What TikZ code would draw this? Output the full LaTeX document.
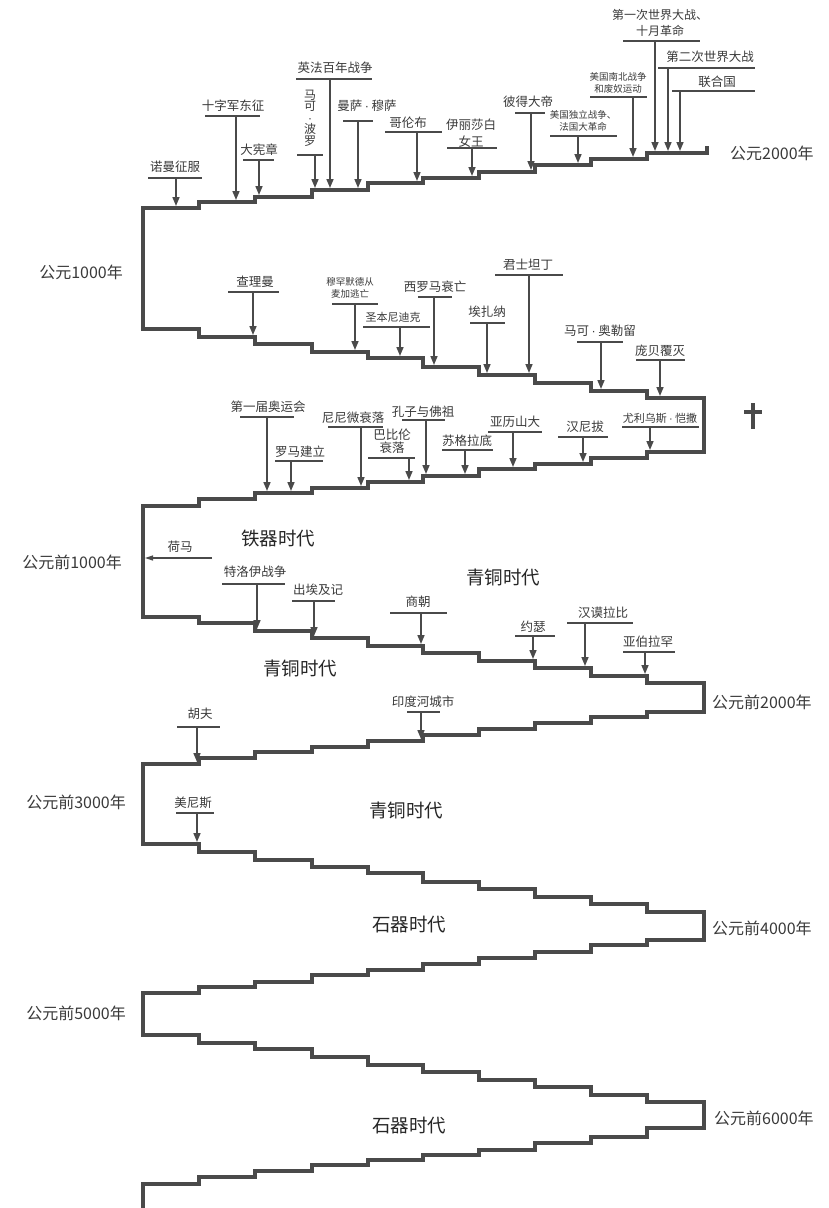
\documentclass[tikz,border=0pt]{standalone}
\usepackage{fontspec}
\setmainfont{Noto Sans CJK SC}
\newfontfamily\latinf{Liberation Sans}
\newcommand\mdot{\hspace{0.2em}{\latinf\textperiodcentered}\hspace{0.2em}}
\usetikzlibrary{arrows.meta}
\definecolor{ink}{HTML}{4A4A4A}
\definecolor{txt}{HTML}{3A3A3A}
\tikzset{
  stair/.style={line width=3.6pt, draw=ink, line join=miter},
  evbar/.style={line width=1.6pt, draw=ink},
  evarrow/.style={line width=1.6pt, draw=ink, -{Triangle[length=9pt,width=7pt]}},
  evlab/.style={text=txt, font=\fontsize{12.5}{15}\selectfont, align=center, inner sep=0pt},
  smallev/.style={font=\fontsize{9.5}{11.5}\selectfont},
  midev/.style={font=\fontsize{11}{13}\selectfont},
  yearlab/.style={text=txt, font=\fontsize{16}{18}\selectfont, inner sep=0pt},
  eralab/.style={text=black!85, font=\fontsize{18.5}{20}\selectfont, inner sep=0pt},
}
% [opts]{name}{text pos}{text}{bar left x}{bar right x}{bar y}{arrow x}{arrow end y}
\newcommand\evt[9][]{%
  \node[evlab,#1] (#2) at (#3) {#4};
  \coordinate (#2-l) at (#5,#7);
  \coordinate (#2-r) at (#6,#7);
  \coordinate (#2-s) at (#8,#7);
  \coordinate (#2-e) at (#8,#9);
  \draw[evbar] (#2-l) -- (#2-r);
  \draw[evarrow] (#2-s) -- (#2-e);
}
\begin{document}
\begin{tikzpicture}[x=1pt,y=-1pt]
\useasboundingbox (0,0) rectangle (829,1208);
\fill[white] (0,0) rectangle (829,1208);

% staircase time line
\draw[stair] (707,146) -- (707,153) -- (647,153) |- (591,159) |- (535,165) |- (479,172) |- (423,178) |- (368,183) |- (312,190) |- (255,197) |- (199,202) |- (143,208)
  -- (143,329) -| (199,337) -| (255,344) -| (312,352) -| (368,358) -| (423,367) -| (479,375) -| (535,383) -| (591,391) -| (647,398) -- (704,398) -- (704,452)
  -| (647,458) -| (591,464) -| (535,469) -| (479,476) -| (423,482) -| (368,488) -| (312,493) -| (255,499) -| (199,506) -- (143,506)
  -- (143,617) -| (199,623) -| (255,631) -| (312,638) -| (368,646) -| (423,653) -| (479,661) -| (535,668) -| (591,676) -| (647,683) -- (704,683) -- (704,712)
  -| (647,717) -| (591,723) -| (535,729) -| (479,735) -| (423,741) -| (368,747) -| (312,752) -| (255,758) -| (199,764) -- (143,764)
  -- (143,844) -| (199,852) -| (255,860) -| (312,867) -| (368,873) -| (423,882) -| (479,889) -| (535,897) -| (591,904) -| (647,912) -- (704,912) -- (704,940)
  -| (647,945) -| (591,952) -| (535,958) -| (479,964) -| (423,970) -| (368,975) -| (312,982) -| (255,987) -| (199,993) -- (143,993)
  -- (143,1035) -| (199,1043) -| (255,1049) -| (312,1057) -| (368,1065) -| (423,1072) -| (479,1080) -| (535,1087) -| (591,1095) -| (647,1102) -- (704,1102) -- (704,1128)
  -| (647,1137) -| (591,1143) -| (535,1150) -| (479,1155) -| (423,1160) -| (368,1165) -| (312,1171) -| (255,1177) -| (199,1184) -- (143,1184) -- (143,1212);

% year labels
\node[yearlab,anchor=west] (y2000) at (730,153) {公元2000年};
\node[yearlab,anchor=east] (y1000) at (123,272) {公元1000年};
\node[yearlab,anchor=east] (bc1000) at (122,562) {公元前1000年};
\node[yearlab,anchor=west] (bc2000) at (712,702) {公元前2000年};
\node[yearlab,anchor=east] (bc3000) at (126,802) {公元前3000年};
\node[yearlab,anchor=west] (bc4000) at (712,928) {公元前4000年};
\node[yearlab,anchor=east] (bc5000) at (126,1013) {公元前5000年};
\node[yearlab,anchor=west] (bc6000) at (714,1118) {公元前6000年};

% era labels
\node[eralab] (era1) at (278,538) {铁器时代};
\node[eralab] (era2) at (503,577) {青铜时代};
\node[eralab] (era3) at (300,668) {青铜时代};
\node[eralab] (era4) at (406,810) {青铜时代};
\node[eralab] (era5) at (409,925) {石器时代};
\node[eralab] (era6) at (409,1126) {石器时代};

% AD 1000 - 2000
\evt{e1}{175,167}{诺曼征服}{148}{202}{178}{176}{206}
\evt{e2}{233,106}{十字军东征}{205}{260}{116}{236}{200}
\evt{e3}{259,150}{大宪章}{243}{274}{160}{259}{195}
\evt[font=\fontsize{12}{11.6}\selectfont]{e4}{310,118}{马\\可\\{\latinf\textperiodcentered}\\波\\罗}{297}{323}{155}{315}{188}
\evt{e5}{335,68}{英法百年战争}{296}{372}{79}{330}{188}
\evt{e6}{367,106}{曼萨\mdot 穆萨}{343}{373}{121}{358}{188}
\evt{e7}{408,123}{哥伦布}{385}{442}{132}{417}{181}
\evt[font=\fontsize{12.5}{17}\selectfont]{e8}{471,133}{伊丽莎白\\女王}{447}{497}{148}{472}{176}
\evt{e9}{528,102}{彼得大帝}{515}{545}{113}{531}{170}
\evt[smallev]{e10}{583,121}{美国独立战争、\\法国大革命}{550}{617}{136}{578}{163}
\evt[smallev]{e11}{618,83}{美国南北战争\\和废奴运动}{590}{647}{97}{633}{157}
\evt[font=\fontsize{12}{16.5}\selectfont]{e12}{660,23}{第一次世界大战、\\十月革命}{623}{700}{41}{655}{151}
\evt{e13}{710,57}{第二次世界大战}{658}{755}{68}{668}{151}
\evt{e14}{717,82}{联合国}{672}{755}{91}{680}{151}

% AD 0 - 1000
\evt{e15}{255,282}{查理曼}{228}{279}{292}{253}{335}
\evt[smallev]{e16}{350,288}{穆罕默德从\\麦加逃亡}{332}{378}{304}{355}{350}
\evt[midev]{e17}{393,317}{圣本尼迪克}{363}{430}{327}{400}{356}
\evt{e18}{435,287}{西罗马衰亡}{418}{452}{297}{434}{365}
\evt{e19}{487,312}{埃扎纳}{470}{505}{323}{487}{373}
\evt{e20}{528,265}{君士坦丁}{495}{563}{275}{529}{373}
\evt{e21}{600,331}{马可\mdot 奥勒留}{577}{623}{342}{601}{389}
\evt{e22}{660,351}{庞贝覆灭}{636}{685}{360}{660}{396}

% cross
\coordinate (crossT) at (753,403);
\coordinate (crossB) at (753,429);
\coordinate (crossL) at (744,412);
\coordinate (crossR) at (762,412);
\draw[line width=4pt, draw=ink] (crossT) -- (crossB);
\draw[line width=3.5pt, draw=ink] (crossL) -- (crossR);

% BC 1000 - AD 0
\evt{e23}{268,407}{第一届奥运会}{240}{294}{417}{267}{491}
\evt{e24}{300,452}{罗马建立}{275}{323}{461}{291}{491}
\evt{e25}{353,418}{尼尼微衰落}{328}{383}{427}{361}{486}
\evt[font=\fontsize{12.5}{13}\selectfont]{e26}{392,441}{巴比伦\\衰落}{368}{415}{458}{409}{480}
\evt{e27}{423,412}{孔子与佛祖}{402}{445}{420}{426}{474}
\evt{e28}{467,441}{苏格拉底}{442}{493}{450}{465}{474}
\evt{e29}{515,422}{亚历山大}{488}{542}{432}{513}{467}
\evt{e30}{585,427}{汉尼拔}{558}{608}{437}{583}{462}
\evt[midev]{e31}{660,418}{尤利乌斯\mdot 恺撒}{622}{699}{427}{650}{450}

% Homer
\node[evlab] (homer) at (180,547) {荷马};
\coordinate (homer-s) at (212,558);
\coordinate (homer-e) at (145,558);
\draw[line width=1.2pt, draw=ink, -{Triangle[length=8pt,width=5pt]}] (homer-s) -- (homer-e);

% BC 2000 - 1000
\evt{e32}{255,572}{特洛伊战争}{222}{285}{584}{257}{629}
\evt{e33}{318,590}{出埃及记}{292}{335}{601}{314}{636}
\evt{e34}{418,602}{商朝}{390}{447}{613}{421}{644}
\evt{e35}{533,627}{约瑟}{515}{555}{636}{533}{659}
\evt{e36}{603,613}{汉谟拉比}{567}{633}{623}{585}{666}
\evt{e37}{648,642}{亚伯拉罕}{623}{675}{652}{645}{674}

% BC 3000 - 2000
\evt{e38}{423,702}{印度河城市}{407}{440}{712}{421}{739}
\evt{e39}{200,714}{胡夫}{177}{220}{727}{197}{762}
\evt{e40}{193,803}{美尼斯}{176}{214}{813}{197}{842}
\end{tikzpicture}
\end{document}
